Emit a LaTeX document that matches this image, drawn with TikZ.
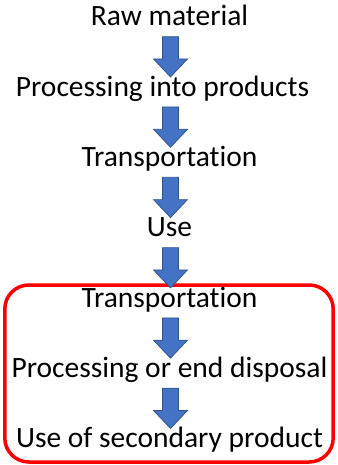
\documentclass[tikz,border=0pt]{standalone}
\usepackage{fontspec}
\setmainfont{Carlito}[Ligatures=NoCommon]
\usepackage{tikz}
\usetikzlibrary{positioning,calc}
\usepackage{xcolor}
\definecolor{arrowblue}{HTML}{4472C4}
\definecolor{arrowedge}{HTML}{2F528F}
\definecolor{framered}{HTML}{FF0000}

\begin{document}
\begin{tikzpicture}[node distance=70.3pt,on grid,
    step text/.style={inner sep=0pt,text height=20pt,text depth=7pt,
      font=\fontsize{29.5}{35}\selectfont},
    flow/.style={draw=arrowedge,fill=arrowblue,line width=.7pt,
      to path={let \p1=($(\tikztostart.base -| axis)+(0,-10.7pt)$),
        \p2=($(\tikztotarget.base -| axis)+(0,19.3pt)$) in
        (\x1-8pt,\y1) -- (\x1+8pt,\y1) -- (\x1+8pt,\y2+18pt) -- (\x1+17pt,\y2+18pt)
        -- (\x1,\y2) -- (\x1-17pt,\y2+18pt) -- (\x1-8pt,\y2+18pt) -- cycle}},
    frame/.style={draw=framered,line width=3.5pt,rounded corners=24pt}]
   \useasboundingbox (0,0) rectangle (337pt,-465pt);
   \coordinate (axis) at (170.5pt,0);
   \node[frame,minimum width=328.4pt,minimum height=177pt] (loop) at (169pt,-373.5pt) {};
   \node[step text,anchor=base] (raw) at (169.5pt,-26pt) {Raw material};
   \node[step text,xshift=-7pt] (proc) [below=of raw] {Processing into products};
   \node[step text] (trans) [below=of raw,yshift=-70.3pt] {Transportation};
   \node[step text] (use) [below=of trans] {Use};
   \node[step text] (trans2) [below=of use] {Transportation};
   \node[step text] (disp) [below=of trans2] {Processing or end disposal};
   \node[step text] (second) [below=of disp] {Use of secondary product};
    \path
    (raw) edge [flow] (proc)
    (proc) edge [flow] (trans)
    (trans) edge [flow] (use)
    (use) edge [flow] (trans2)
    (trans2) edge [flow] (disp)
    (disp) edge [flow] (second)
    ;
\end{tikzpicture}
\end{document}
